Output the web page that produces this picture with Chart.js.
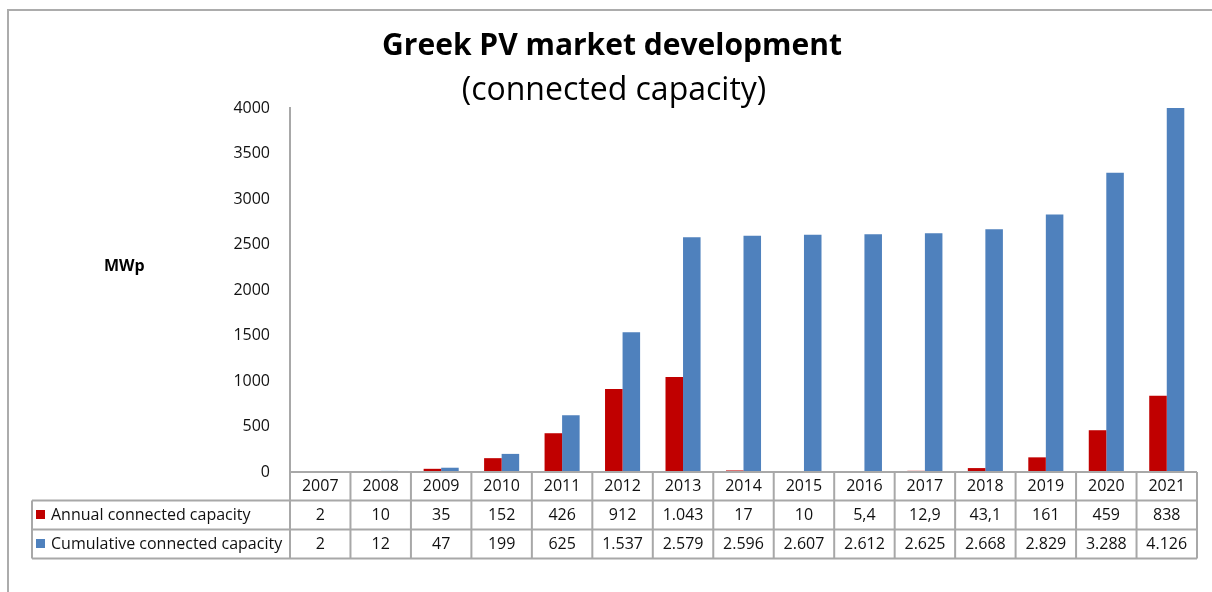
<!DOCTYPE html>
<html>
<head>
<meta charset="utf-8">
<script src="https://cdn.jsdelivr.net/npm/chart.js@4"></script>
<style>
    body { margin: 0; background: #fff; }
    #wrap { position: relative; width: 1212px; height: 592px; }
    #frame { position: absolute; left: 7px; top: 9px; right: 0; bottom: 0; border-top: 2px solid #acacac; border-left: 2px solid #acacac; }
    canvas { position: absolute; left: 0; top: 0; }
</style>
</head>
<body>
<div id="wrap">
    <div id="frame"></div>
    <canvas id="pvChart" width="1212" height="592"></canvas>
</div>
<script>
const years = ['2007', '2008', '2009', '2010', '2011', '2012', '2013', '2014', '2015', '2016', '2017', '2018', '2019', '2020', '2021'];
const annualCapacity = [2, 10, 35, 152, 426, 912, 1043, 17, 10, 5.4, 12.9, 43.1, 161, 459, 838];
const cumulativeCapacity = [2, 12, 47, 199, 625, 1537, 2579, 2596, 2607, 2612, 2625, 2668, 2829, 3288, 4126];
const seriesNames = ['Annual connected capacity', 'Cumulative connected capacity'];
const seriesColors = ['#C00000', '#4F81BD'];

const FONT = '"Open Sans", "Noto Sans", sans-serif';

// European style: 1.043 and 5,4
function formatValue(v) {
    if (Number.isInteger(v)) {
        return String(v).replace(/\B(?=(\d{3})+(?!\d))/g, '.');
    }
    return String(v).replace('.', ',');
}

const tablePlugin = {
    id: 'dataTable',
    afterDraw(chart) {
        const ctx = chart.ctx;
        const area = chart.chartArea;
        const x = chart.scales.x;
        const colW = (area.right - area.left) / years.length;
        const rowTops = [area.bottom, area.bottom + 28.5, area.bottom + 57.5, area.bottom + 86.5];
        const tableLeft = 32;

        ctx.save();

        // titles
        ctx.fillStyle = '#000';
        ctx.textAlign = 'center';
        ctx.textBaseline = 'middle';
        ctx.font = 'bold 30px ' + FONT;
        ctx.fillText('Greek PV market development', 612, 46);
        ctx.font = '32px ' + FONT;
        ctx.fillText('(connected capacity)', 614, 91);

        ctx.font = 'bold 16px ' + FONT;
        ctx.textAlign = 'left';
        ctx.fillText('MWp', 104, 266);

        // grid of the table
        ctx.strokeStyle = '#a8a8a8';
        ctx.lineWidth = 2;
        ctx.beginPath();
        ctx.moveTo(area.left, rowTops[0]);
        ctx.lineTo(area.right, rowTops[0]);
        for (let r = 1; r < rowTops.length; r++) {
            ctx.moveTo(tableLeft, rowTops[r]);
            ctx.lineTo(area.right, rowTops[r]);
        }
        ctx.moveTo(tableLeft, rowTops[1]);
        ctx.lineTo(tableLeft, rowTops[3]);
        for (let i = 0; i <= years.length; i++) {
            const bx = area.left + i * colW;
            ctx.moveTo(bx, rowTops[0]);
            ctx.lineTo(bx, rowTops[3]);
        }
        ctx.stroke();

        // cells
        ctx.font = '16px ' + FONT;
        ctx.fillStyle = '#111';
        ctx.textAlign = 'center';
        const rows = [years, annualCapacity.map(formatValue), cumulativeCapacity.map(formatValue)];
        rows.forEach((row, r) => {
            const cy = (rowTops[r] + rowTops[r + 1]) / 2;
            row.forEach((txt, i) => {
                ctx.fillText(txt, x.getPixelForValue(i), cy);
            });
        });

        // legend keys in the first column
        ctx.textAlign = 'left';
        seriesNames.forEach((name, k) => {
            const cy = (rowTops[k + 1] + rowTops[k + 2]) / 2;
            ctx.fillStyle = seriesColors[k];
            ctx.fillRect(36, cy - 5, 9, 9);
            ctx.fillStyle = '#111';
            ctx.fillText(name, 51, cy);
        });

        ctx.restore();
    }
};

const ctx = document.getElementById('pvChart').getContext('2d');
new Chart(ctx, {
    type: 'bar',
    data: {
        labels: years,
        datasets: [{
            label: seriesNames[0],
            data: annualCapacity,
            backgroundColor: seriesColors[0],
            barPercentage: 1,
            categoryPercentage: 0.58
        }, {
            label: seriesNames[1],
            data: cumulativeCapacity,
            backgroundColor: seriesColors[1],
            barPercentage: 1,
            categoryPercentage: 0.58
        }]
    },
    options: {
        responsive: false,
        animation: false,
        layout: {
            padding: { left: 200, top: 108, right: 15, bottom: 120 }
        },
        scales: {
            x: {
                display: false
            },
            y: {
                min: 0,
                max: 4000,
                afterFit: function(scale) { scale.width = 90; },
                grid: { display: false, drawTicks: false },
                border: { display: true, color: '#a8a8a8', width: 2 },
                ticks: {
                    stepSize: 500,
                    padding: 20,
                    color: '#111',
                    font: { family: FONT, size: 16 },
                    callback: function(value) {
                        return String(value);
                    }
                }
            }
        },
        plugins: {
            legend: { display: false },
            tooltip: { enabled: false }
        }
    },
    plugins: [tablePlugin]
});
</script>
</body>
</html>
